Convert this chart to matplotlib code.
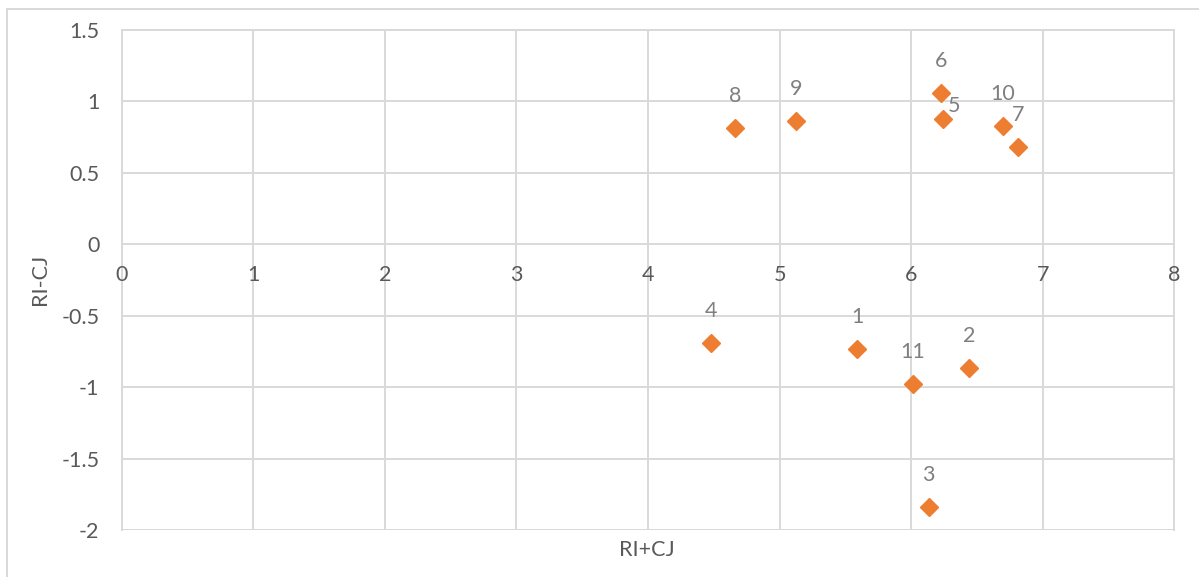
import matplotlib
matplotlib.use("Agg")
import matplotlib.pyplot as plt
from matplotlib.patches import Rectangle

# Data
labels = ["1", "2", "3", "4", "5", "6", "7", "8", "9", "10", "11"]
x_vals = [5.589, 6.440, 6.133, 4.477, 6.242, 6.228, 6.810, 4.659, 5.123, 6.698, 6.014]
y_vals = [-0.733, -0.868, -1.837, -0.691, 0.877, 1.057, 0.683, 0.814, 0.863, 0.828, -0.980]
x_ticks = [0, 1, 2, 3, 4, 5, 6, 7, 8]
y_ticks = [-2, -1.5, -1, -0.5, 0, 0.5, 1, 1.5]
y_tick_labels = ["-2", "-1.5", "-1", "-0.5", "0", "0.5", "1", "1.5"]

plt.rcParams['font.family'] = ['Lato', 'DejaVu Sans']
FS = 15.5

W, H = 1199, 577
fig = plt.figure(figsize=(W / 100, H / 100), dpi=100)
fig.patch.set_facecolor("white")

# outer chart border
fig.patches.append(Rectangle((7 / W, -0.1), 1.2, 1 - 9 / H + 0.1, transform=fig.transFigure,
                             fill=False, edgecolor="#d9d9d9", linewidth=1.4))

ax = fig.add_axes([121.7 / W, 1 - 530 / H, (1174.3 - 121.7) / W, (530 - 30) / H])
ax.set_xlim(0, 8)
ax.set_ylim(-2, 1.5)

grid_c = "#d9d9d9"
for s in ax.spines.values():
    s.set_color(grid_c)
    s.set_linewidth(1.4)
ax.spines['bottom'].set_visible(False)

ax.set_xticks(x_ticks)
ax.set_yticks(y_ticks)
ax.set_yticklabels(y_tick_labels)
ax.grid(True, color=grid_c, linewidth=1.4)
ax.set_axisbelow(True)
ax.axhline(-2, color=grid_c, linewidth=1.4, zorder=0.5)

ax.tick_params(axis='both', length=0, labelsize=FS, labelcolor="#595959")
ax.tick_params(axis='y', pad=16)
# x tick labels placed next to the y=0 axis
for t in ax.get_xticklabels():
    t.set_visible(False)
for xv in x_ticks:
    ax.annotate(str(xv), (xv, 0), xytext=(0, -31), textcoords='offset pixels',
                ha='center', va='center', fontsize=FS, color="#595959")

ax.plot(x_vals, y_vals, linestyle='none', marker='D', markersize=9.5,
        color="#ED7D31", zorder=3)

offsets = {"5": (11, 13)}
for lb, xv, yv in zip(labels, x_vals, y_vals):
    dx, dy = offsets.get(lb, (0, 32))
    ax.annotate(lb, (xv, yv), xytext=(dx, dy), textcoords='offset pixels',
                ha='center', va='center', fontsize=FS, color="#7f7f7f", zorder=4)

fig.text(647 / W, 1 - 550 / H, "RI+CJ", ha='center', va='center', fontsize=FS, color="#595959")
fig.text(40 / W, 1 - 279 / H, "RI-CJ", ha='center', va='center', rotation=90,
         fontsize=FS, color="#595959")

fig.savefig("out.png", dpi=100)
